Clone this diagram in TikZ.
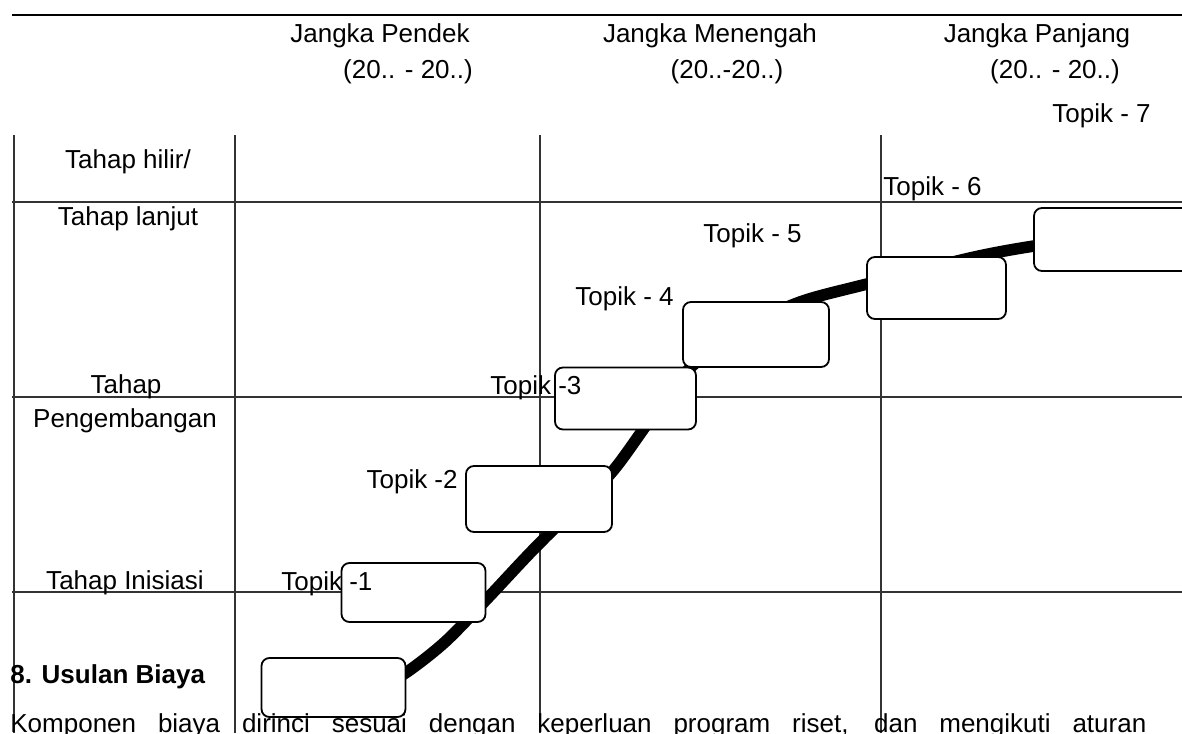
\documentclass[tikz,border=0pt]{standalone}
\usepackage{fontspec}
\setmainfont{Liberation Sans}
\usepackage{tikz}

\begin{document}
\begin{tikzpicture}[x=0.5pt,y=-0.5pt,font=\fontsize{13}{15}\selectfont]
            \tikzstyle{box}=[draw,fill=white,rounded corners=4pt,line width=0.9pt,minimum width=72pt,minimum height=31pt,inner sep=0pt]
            \tikzstyle{lbl}=[inner sep=0pt,anchor=base west]
            \tikzstyle{mid}=[inner sep=0pt,anchor=base]
            \tikzstyle{grid}=[black!80,line width=0.6pt]
            \useasboundingbox (0,0) rectangle (1182,733);

            % table rules
            \draw[line width=1.1pt] (12,15) -- (1182,15);
            \foreach \y in {202,397,592} \draw[grid] (12,\y) -- (1182,\y);
            \foreach \x in {14,235,540,881} \draw[grid] (\x,135) -- (\x,733);

            % header
            \node[mid] (h1) at (380,43) {Jangka Pendek};
            \node[mid] (d1) at (408,79) {(20.. - 20..)};
            \node[mid] (h2) at (710,43) {Jangka Menengah};
            \node[mid] (d2) at (727,79) {(20..-20..)};
            \node[mid] (h3) at (1037,43) {Jangka Panjang};
            \node[mid] (d3) at (1055,79) {(20.. - 20..)};

            % stages
            \node[mid] (s1) at (128,168) {Tahap hilir/};
            \node[mid] (s2) at (128,225) {Tahap lanjut};
            \node[mid] (s3) at (126,393) {Tahap};
            \node[mid] (s4) at (125,427) {Pengembangan};
            \node[mid] (s5) at (125,589) {Tahap Inisiasi};

            % roadmap line
            \draw[line width=5.8pt] plot[smooth] coordinates {(370,694) (407,672) (445,642) (485,601) (530,553) (570,513) (612,472) (650,420) (688,370) (740,330) (800,302) (867,284) (970,258) (1034,246) (1110,236)};

            % topics
            \node[box,minimum height=29.5pt] (t0) at (333.5,687.5) {};
            \node[box,minimum height=29.5pt] (t1) at (413.5,592.5) {};
            \node[box,minimum width=73pt,minimum height=33pt] (t2) at (539,499) {};
            \node[box,minimum width=70.5pt] (t3) at (625.5,398.5) {};
            \node[box,minimum width=73pt,minimum height=32.5pt] (t4) at (756,334.5) {};
            \node[box,minimum width=69.5pt] (t5) at (936.5,288) {};
            \node[box,minimum width=78pt,minimum height=31.5pt] (t6) at (1112,239.5) {};

            \node[lbl] (l1) at (281,590) {Topik -1};
            \node[lbl,anchor=base east] (l2) at (458,488) {Topik -2};
            \node[lbl] (l3) at (490,394) {Topik -3};
            \node[lbl] (l4) at (575,305) {Topik - 4};
            \node[lbl] (l5) at (703,242) {Topik - 5};
            \node[lbl] (l6) at (883,195) {Topik - 6};
            \node[lbl] (l7) at (1052,123) {Topik - 7};

            % next section
            \node[lbl] (sec) at (10,683) {\bfseries 8. Usulan Biaya};
            \node[lbl] (par) at (10,732) {\makebox[568pt][s]{Komponen biaya dirinci sesuai dengan keperluan program riset, dan mengikuti aturan}};
        \end{tikzpicture}
\end{document}
